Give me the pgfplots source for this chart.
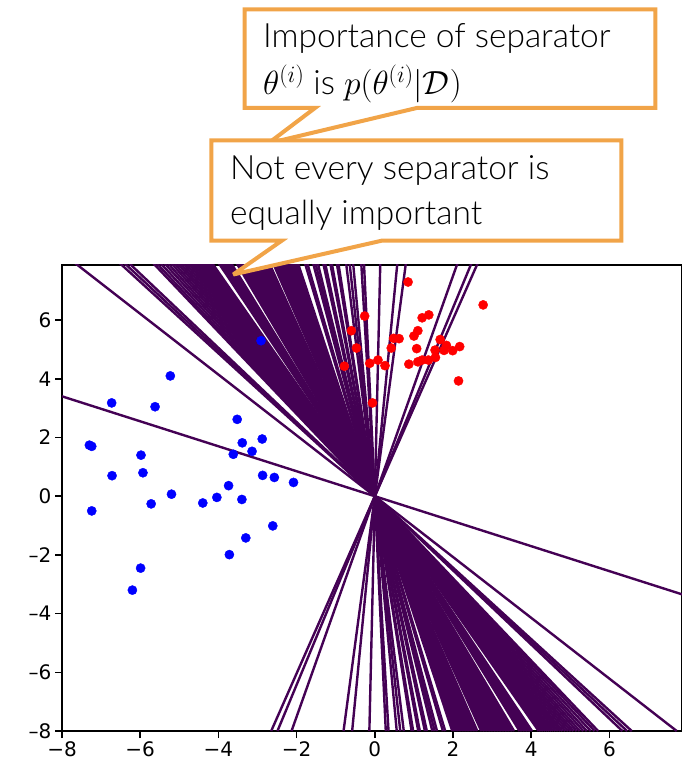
\RequirePackage{fix-cm}
\documentclass[border=0pt]{standalone}
\usepackage{pgfplots}
\usepackage{pgfplotstable}
\pgfplotsset{compat=1.18}
\usepackage{fontspec}
\setmainfont{DejaVu Sans}
\newfontfamily\callfont{Lato Light}

\definecolor{sepcol}{HTML}{440154}
\definecolor{calloutcol}{HTML}{F1A448}

% class -1 samples
\pgfplotstableread{
x y
-7.30 1.74
-7.24 1.70
-6.73 3.18
-5.23 4.10
-5.62 3.05
-5.98 1.40
-6.72 0.70
-5.93 0.80
-7.24 -0.50
-5.72 -0.26
-5.20 0.07
-4.40 -0.23
-4.04 -0.04
-3.74 0.36
-3.52 2.62
-3.62 1.43
-3.39 1.82
-3.14 1.53
-2.88 1.95
-2.87 0.71
-2.57 0.64
-2.08 0.47
-3.40 -0.11
-2.61 -1.01
-3.30 -1.42
-3.72 -1.99
-5.99 -2.45
-6.20 -3.20
-2.91 5.30
}\bluepts

% class +1 samples
\pgfplotstableread{
x y
0.85 7.30
2.77 6.52
-0.26 6.14
1.21 6.08
1.38 6.18
-0.60 5.64
1.10 5.64
1.00 5.46
0.48 5.38
0.62 5.37
1.67 5.34
1.83 5.14
-0.47 5.05
0.42 5.05
1.07 5.03
1.54 4.98
1.77 4.97
1.99 4.96
2.17 5.10
0.08 4.64
-0.13 4.53
0.26 4.45
-0.78 4.43
0.87 4.50
1.10 4.58
1.21 4.64
1.37 4.64
1.55 4.73
2.14 3.93
-0.06 3.18
}\redpts

\begin{document}
\begin{tikzpicture}[x=1pt,y=1pt]
\useasboundingbox (-62,-30) rectangle (619,731);
\begin{axis}[
  at={(0,0)}, anchor=south west,
  scale only axis, width=619.8pt, height=466pt,
  xmin=-8, xmax=7.85, ymin=-8, ymax=7.88,
  xtick={-8,-6,-4,-2,0,2,4,6},
  xticklabels={−8,−6,−4,−2,0,2,4,6},
  ytick={-8,-6,-4,-2,0,2,4,6},
  yticklabels={–8,–6,–4,–2,0,2,4,6},
  xtick pos=left, ytick pos=left,
  tick align=outside, major tick length=7pt,
  tick style={black, line width=1.6pt},
  axis line style={line width=1.6pt},
  ticklabel style={font=\fontsize{20}{24}\selectfont},
  clip=true,
]
\addplot[only marks, mark=*, mark size=4.6pt, color=blue] table {\bluepts};
\addplot[only marks, mark=*, mark size=4.6pt, color=red] table {\redpts};
% separators through the origin, each given by its x value at y = 8
\pgfplotsinvokeforeach{0.14,0.58,0.80,2.13,2.49,2.65,
  -0.28,-0.35,-0.56,-0.65,-0.74,-0.94,-0.98,-1.11,-1.15,-1.28,-1.33,-1.47,-1.53,-1.59,-1.74,-1.80,
  -1.98,-2.02,-2.06,-2.10,-2.14,-2.18,-2.22,-2.26,-2.30,-2.34,-2.38,-2.42,-2.46,-2.50,-2.54,-2.58,-2.62,
  -2.72,-2.76,-2.80,-2.84,-2.88,-2.92,-2.96,-3.00,-3.04,-3.08,-3.12,-3.16,-3.20,-3.24,-3.28,-3.32,-3.36,-3.40,-3.44,-3.48,-3.52,-3.56,
  -3.70,-3.74,-3.78,-3.82,-3.86,-3.90,-3.94,-3.98,-4.02,
  -4.19,-4.23,-4.27,-4.31,-4.36,-4.41,-4.46,-4.51,-4.56,-4.62,-4.68,-4.74,-4.80,-4.87,-4.94,-5.01,-5.08,-5.16,-5.24,-5.33,-5.42,-5.52,-5.62,-5.71,
  -6.33,-6.45,-6.57,-7.72,-18.8}{
  \pgfmathsetmacro\xlow{-(#1)}
  \addplot[color=sepcol, line width=2.4pt, no marks] coordinates {(\xlow,-8) (#1,8)};
}
\end{axis}

% callouts
\tikzset{calltext/.style={anchor=base west, inner sep=0, font=\callfont\fontsize{33.5}{40}\selectfont}}
\draw[calloutcol, line width=4pt, fill=white, line join=miter, miter limit=4]
  (182.7,623) -- (182.7,721.7) -- (593.3,721.7) -- (593.3,623) -- (354.7,623)
  -- (206.3,587.7) -- (253,623) -- cycle;
\node[calltext] at (201,683) {Importance of separator};
\node[calltext] at (201,636) {$\theta^{(i)}$ is $p(\theta^{(i)}|\mathcal{D})$};

\draw[calloutcol, line width=4pt, fill=white, line join=miter, miter limit=4]
  (149.3,490.3) -- (149.3,590.7) -- (559.3,590.7) -- (559.3,490.3) -- (319.7,490.3)
  -- (171.3,456.5) -- (219.7,490.3) -- cycle;
\node[calltext] at (168,551) {Not every separator is};
\node[calltext] at (168,506) {equally important};
\end{tikzpicture}
\end{document}
